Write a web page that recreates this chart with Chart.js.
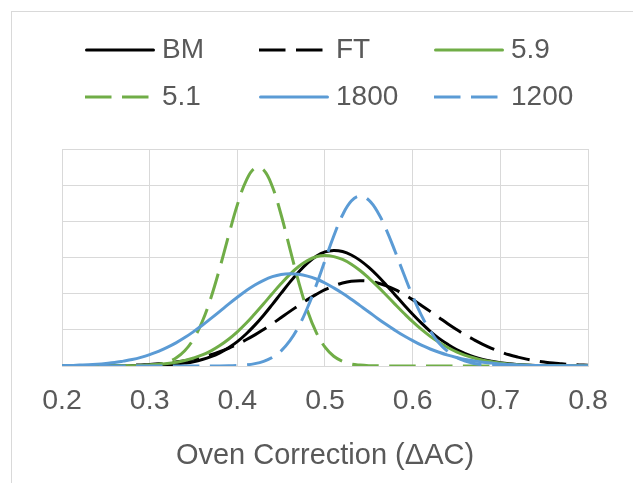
<!DOCTYPE html>
<html>
<head>
<meta charset="utf-8">
<script src="https://cdn.jsdelivr.net/npm/chart.js@4.4.0/dist/chart.umd.min.js"></script>
<style>
html,body{margin:0;padding:0;background:#fff;overflow:hidden}
#wrap{position:relative;width:633px;height:483px}
</style>
</head>
<body>
<div id="wrap"><canvas id="c" width="633" height="483"></canvas></div>
<script>
// ---- data ----
const xValues = [0.20,0.21,0.22,0.23,0.24,0.25,0.26,0.27,0.28,0.29,
                 0.30,0.31,0.32,0.33,0.34,0.35,0.36,0.37,0.38,0.39,
                 0.40,0.41,0.42,0.43,0.44,0.45,0.46,0.47,0.48,0.49,
                 0.50,0.51,0.52,0.53,0.54,0.55,0.56,0.57,0.58,0.59,
                 0.60,0.61,0.62,0.63,0.64,0.65,0.66,0.67,0.68,0.69,
                 0.70,0.71,0.72,0.73,0.74,0.75,0.76,0.77,0.78,0.79,0.80];

const seriesNames = ['BM','FT','5.9','5.1','1800','1200'];

const bmValues = [0,0,0,0,0,0,0,0,0.01,0.01,
                  0.02,0.04,0.06,0.10,0.16,0.24,0.36,0.52,0.73,1.01,
                  1.35,1.77,2.26,2.81,3.41,4.03,4.64,5.20,5.69,6.07,
                  6.31,6.39,6.33,6.14,5.84,5.45,4.99,4.47,3.93,3.39,
                  2.86,2.37,1.92,1.53,1.20,0.91,0.69,0.50,0.36,0.26,
                  0.18,0.12,0.08,0.05,0.03,0.02,0.01,0.01,0,0,0];

const ftValues = [0,0,0,0.01,0.01,0.01,0.02,0.03,0.04,0.06,
                  0.08,0.12,0.16,0.22,0.29,0.38,0.49,0.62,0.79,0.98,
                  1.20,1.45,1.72,2.02,2.34,2.68,3.02,3.35,3.67,3.96,
                  4.22,4.43,4.59,4.69,4.72,4.69,4.59,4.43,4.22,3.96,
                  3.67,3.35,3.02,2.68,2.34,2.02,1.72,1.45,1.20,0.98,
                  0.79,0.62,0.49,0.38,0.29,0.22,0.16,0.12,0.08,0.06,0.04];

const v59Values = [0,0,0,0,0,0,0.01,0.01,0.02,0.04,
                   0.06,0.09,0.14,0.21,0.30,0.44,0.61,0.84,1.13,1.48,
                   1.89,2.36,2.89,3.44,4.01,4.56,5.07,5.50,5.83,6.04,
                   6.11,6.05,5.89,5.63,5.28,4.86,4.40,3.91,3.41,2.92,
                   2.45,2.02,1.64,1.31,1.02,0.78,0.59,0.44,0.32,0.23,
                   0.16,0.11,0.07,0.05,0.03,0.02,0.01,0.01,0,0,0];

const v51Values = [0,0,0,0,0,0,0,0,0.01,0.02,
                   0.04,0.10,0.21,0.44,0.84,1.49,2.46,3.79,5.42,7.21,
                   8.91,10.24,10.94,10.84,9.91,8.35,6.48,4.64,3.06,1.86,
                   1.04,0.54,0.26,0.11,0.05,0.02,0.01,0,0,0,
                   0,0,0,0,0,0,0,0,0,0,
                   0,0,0,0,0,0,0,0,0,0,0];

const v1800Values = [0.02,0.03,0.05,0.07,0.10,0.14,0.19,0.27,0.36,0.48,
                     0.63,0.81,1.03,1.28,1.57,1.90,2.25,2.63,3.02,3.42,
                     3.80,4.16,4.48,4.74,4.94,5.06,5.10,5.07,4.97,4.81,
                     4.59,4.32,4.02,3.69,3.34,2.99,2.63,2.29,1.97,1.67,
                     1.40,1.15,0.94,0.76,0.60,0.47,0.36,0.28,0.21,0.16,
                     0.11,0.08,0.06,0.04,0.03,0.02,0.01,0.01,0.01,0,0];

const v1200Values = [0,0,0,0,0,0,0,0,0,0,
                     0,0,0,0,0,0,0,0,0,0.01,
                     0.03,0.06,0.13,0.26,0.48,0.84,1.40,2.19,3.22,4.47,
                     5.84,7.19,8.35,9.12,9.40,9.17,8.52,7.53,6.33,5.07,
                     3.86,2.80,1.94,1.27,0.80,0.47,0.27,0.14,0.07,0.04,
                     0.02,0.01,0,0,0,0,0,0,0,0,0];

const xTickLabels = ['0.2','0.3','0.4','0.5','0.6','0.7','0.8'];
const yTickValues = [0,2,4,6,8,10,12];
const xAxisTitle = 'Oven Correction (\u0394AC)';

// ---- styling ----
const FONT = '"Liberation Sans", Arial, sans-serif';
const TEXT = '#595959';
const GRID = '#d9d9d9';
const BLACK = '#000000', GREEN = '#70AD47', BLUE = '#5B9BD5';
const DASH = [26.5, 10.5];

function pts(arr){ return xValues.map((x,i)=>({x:x, y:arr[i]})); }

const styles = [
  {color:BLACK, dash:[]},
  {color:BLACK, dash:DASH},
  {color:GREEN, dash:[]},
  {color:GREEN, dash:DASH},
  {color:BLUE,  dash:[]},
  {color:BLUE,  dash:DASH}
];
const allValues = [bmValues, ftValues, v59Values, v51Values, v1800Values, v1200Values];

const datasets = seriesNames.map((name,i)=>({
  label: name,
  data: pts(allValues[i]),
  borderColor: styles[i].color,
  backgroundColor: styles[i].color,
  borderDash: styles[i].dash,
  borderWidth: 3,
  pointRadius: 0,
  fill: false,
  tension: 0.4,
  borderCapStyle: 'butt',
  borderJoinStyle: 'round',
  order: seriesNames.length - i
}));

const frameAndLegend = {
  id: 'frameAndLegend',
  beforeDraw(chart){
    const ctx = chart.ctx;
    ctx.save();
    ctx.strokeStyle = GRID;
    ctx.lineWidth = 1;
    ctx.strokeRect(11.5, 11.5, 800, 800);
    ctx.restore();
  },
  afterDraw(chart){
    const ctx = chart.ctx;
    const cols = [85, 259, 434];
    const rows = [50, 97];
    chart.data.datasets.forEach((ds,i)=>{
      const x0 = cols[i % 3], y = rows[Math.floor(i / 3)];
      ctx.save();
      ctx.strokeStyle = ds.borderColor;
      ctx.lineWidth = 3;
      const dashed = ds.borderDash && ds.borderDash.length;
      ctx.setLineDash(dashed ? ds.borderDash : []);
      ctx.lineCap = dashed ? 'butt' : 'round';
      ctx.beginPath();
      ctx.moveTo(x0 + (dashed ? 0 : 1.5), y);
      ctx.lineTo(x0 + (dashed ? 70 : 68.5), y);
      ctx.stroke();
      ctx.setLineDash([]);
      ctx.fillStyle = TEXT;
      ctx.font = '28px ' + FONT;
      ctx.textBaseline = 'middle';
      ctx.textAlign = 'left';
      ctx.fillText(ds.label, x0 + 77, y);
      ctx.restore();
    });
  }
};

new Chart(document.getElementById('c'), {
  type: 'line',
  data: { datasets: datasets },
  options: {
    responsive: false,
    animation: false,
    devicePixelRatio: 1,
    layout: { padding: { top: 149, left: 62, right: 45, bottom: 0 } },
    plugins: { legend: { display: false }, tooltip: { enabled: false } },
    scales: {
      x: {
        type: 'linear',
        min: 0.2, max: 0.8,
        afterBuildTicks: (s)=>{ s.ticks = xTickLabels.map(t=>({value: parseFloat(t)})); },
        afterFit: (s)=>{ s.height = 117; },
        ticks: {
          callback: (v,i)=>xTickLabels[i],
          color: TEXT,
          font: { family: FONT, size: 28.5 },
          padding: 18,
          maxRotation: 0,
          autoSkip: false
        },
        grid: { color: GRID, lineWidth: 1, drawTicks: false },
        border: { color: GRID, width: 1 },
        title: {
          display: true, text: xAxisTitle, color: TEXT,
          font: { family: FONT, size: 29 },
          padding: { top: 0, bottom: 10 }
        }
      },
      y: {
        type: 'linear',
        min: 0, max: 12,
        afterBuildTicks: (s)=>{ s.ticks = yTickValues.map(v=>({value:v})); },
        afterFit: (s)=>{ s.width = 0; },
        ticks: { display: false },
        grid: { color: GRID, lineWidth: 1, drawTicks: false },
        border: { display: false }
      }
    }
  },
  plugins: [frameAndLegend]
});
</script>
</body>
</html>
